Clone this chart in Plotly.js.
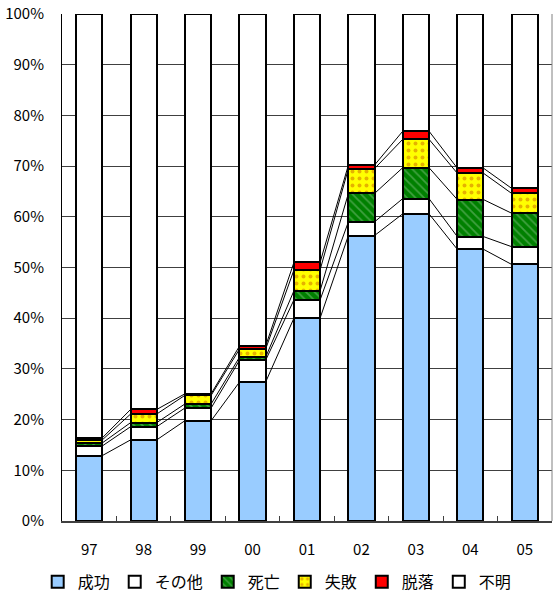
<!DOCTYPE html>
<html>
<head>
<meta charset="utf-8">
<script src="https://cdn.plot.ly/plotly-3.0.1.min.js"></script>
<style>html,body{margin:0;padding:0;background:#fff;}#chart{width:560px;height:598px;}</style>
</head>
<body>
<div id="chart"></div>
<script>
const years = ['97','98','99','00','01','02','03','04','05'];
const seikou = [12.9,16.0,19.8,27.4,40.0,56.3,60.6,53.6,50.6];
const sonota = [1.9,2.6,2.5,4.3,3.6,2.7,3.0,2.5,3.5];
const shibou = [0.6,0.8,0.8,0.6,1.8,5.6,6.1,7.3,6.6];
const shippai = [0.6,1.7,1.7,1.6,4.1,4.9,5.6,5.2,3.9];
const datsuraku = [0.4,0.9,0.3,0.6,1.5,0.7,1.6,1.0,1.0];
const fumei = [83.6,78.0,74.9,65.5,49.0,29.8,23.1,30.4,34.4];

const xs = years.map((_, i) => i);
const BW = 0.48;
const FONT = '"Noto Sans CJK JP", "DejaVu Sans", sans-serif';
const line = {color: '#000', width: 2};

const series = [
  {name: '成功', y: seikou, marker: {color: '#99ccff', line: line}},
  {name: 'その他', y: sonota, marker: {color: '#ffffff', line: line}},
  {name: '死亡', y: shibou, marker: {color: '#008000', line: line,
      pattern: {shape: '\\', fillmode: 'overlay', bgcolor: '#008000', fgcolor: '#7fbf7f', size: 6, solidity: 0.3}}},
  {name: '失敗', y: shippai, marker: {color: '#ffff00', line: line,
      pattern: {shape: '.', fillmode: 'overlay', bgcolor: '#ffff00', fgcolor: '#cc6600', size: 7, solidity: 0.25}}},
  {name: '脱落', y: datsuraku, marker: {color: '#ff0000', line: line}},
  {name: '不明', y: fumei, marker: {color: '#ffffff', line: line}}
];

const traces = series.map(s => ({
  type: 'bar', x: xs, y: s.y, name: s.name, width: BW, marker: s.marker, hoverinfo: 'skip'
}));

// series lines connecting cumulative tops of adjacent bars
const cum = [];
let run = years.map(() => 0);
for (let k = 0; k < 5; k++) {
  run = run.map((v, i) => v + series[k].y[i]);
  cum.push(run.slice());
}
const lx = [], ly = [];
cum.forEach(c => {
  for (let i = 0; i < xs.length - 1; i++) {
    lx.push(xs[i] + BW / 2, xs[i + 1] - BW / 2, null);
    ly.push(c[i], c[i + 1], null);
  }
});
traces.push({type: 'scatter', mode: 'lines', x: lx, y: ly, showlegend: false,
  line: {color: '#000', width: 1}, hoverinfo: 'skip'});

const layout = {
  width: 560, height: 598,
  margin: {l: 62, r: 8, t: 14, b: 77, autoexpand: false},
  paper_bgcolor: '#fff', plot_bgcolor: '#fff',
  barmode: 'stack',
  font: {family: FONT, size: 14, color: '#000'},
  showlegend: true,
  legend: {orientation: 'h', xref: 'container', yref: 'container', x: 0.495, xanchor: 'center', y: 0.027, yanchor: 'middle',
    traceorder: 'normal', font: {family: FONT, size: 16}, itemwidth: 30},
  xaxis: {
    range: [-0.5, 8.5], tickmode: 'array', tickvals: xs, ticktext: years,
    ticks: '', showgrid: false, zeroline: false,
    showline: true, linecolor: '#404040', linewidth: 2,
    ticklabelstandoff: 14,
    tickfont: {family: FONT, size: 15},
    minor: {tickmode: 'array', tickvals: xs.slice(1).map(v => v - 0.5), ticks: 'inside', ticklen: 5, tickcolor: '#404040', tickwidth: 1, showgrid: false}
  },
  yaxis: {
    range: [0, 100], tickmode: 'linear', tick0: 0, dtick: 10, ticksuffix: '%',
    showgrid: true, gridcolor: '#404040', gridwidth: 1,
    zeroline: false, showline: true, linecolor: '#000', linewidth: 1,
    ticks: '', ticklabelstandoff: 14,
    tickfont: {family: FONT, size: 15}
  },
  shapes: [
    {type: 'line', xref: 'paper', yref: 'paper', x0: 1, x1: 1, y0: 0, y1: 1,
     line: {color: '#808080', width: 1}}
  ]
};

Plotly.newPlot('chart', traces, layout, {displayModeBar: false, staticPlot: true});
</script>
</body>
</html>
